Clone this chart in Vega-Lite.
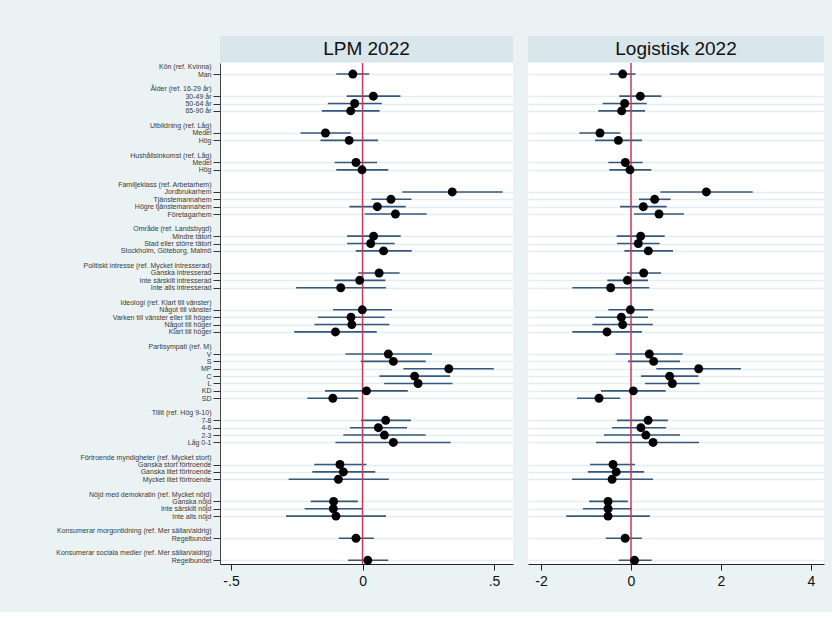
{
  "$schema": "https://vega.github.io/schema/vega-lite/v6.json",
  "background": "#eaf2f3",
  "padding": {"left": 20, "top": 36, "right": 8, "bottom": 22},
  "spacing": 15,
  "config": {"view": {"stroke": null}, "font": "Liberation Sans"},
  "datasets": {
    "coefs": [
      {"model": "LPM", "row": "i01 Man", "b": -0.037, "lo": -0.10, "hi": 0.025},
      {"model": "LPM", "row": "i04 30-49 år", "b": 0.041, "lo": -0.06, "hi": 0.144},
      {"model": "LPM", "row": "i05 50-64 år", "b": -0.03, "lo": -0.132, "hi": 0.073},
      {"model": "LPM", "row": "i06 65-90 år", "b": -0.045, "lo": -0.155, "hi": 0.065},
      {"model": "LPM", "row": "i09 Medel", "b": -0.141, "lo": -0.236, "hi": -0.045},
      {"model": "LPM", "row": "i10 Hög", "b": -0.051, "lo": -0.16, "hi": 0.059},
      {"model": "LPM", "row": "i13 Medel", "b": -0.025, "lo": -0.106, "hi": 0.055},
      {"model": "LPM", "row": "i14 Hög", "b": -0.002, "lo": -0.1, "hi": 0.098},
      {"model": "LPM", "row": "i17 Jordbrukarhem", "b": 0.341, "lo": 0.151, "hi": 0.533},
      {"model": "LPM", "row": "i18 Tjänstemannahem", "b": 0.108, "lo": 0.034, "hi": 0.186},
      {"model": "LPM", "row": "i19 Högre tjänstemannahem", "b": 0.056, "lo": -0.05, "hi": 0.164},
      {"model": "LPM", "row": "i20 Företagarhem", "b": 0.125, "lo": 0.008, "hi": 0.244},
      {"model": "LPM", "row": "i23 Mindre tätort", "b": 0.042, "lo": -0.059, "hi": 0.145},
      {"model": "LPM", "row": "i24 Stad eller större tätort", "b": 0.031, "lo": -0.059, "hi": 0.122},
      {"model": "LPM", "row": "i25 Stockholm, Göteborg, Malmö", "b": 0.08, "lo": -0.026, "hi": 0.187},
      {"model": "LPM", "row": "i28 Ganska intresserad", "b": 0.063, "lo": -0.016, "hi": 0.141},
      {"model": "LPM", "row": "i29 Inte särskilt intresserad", "b": -0.011, "lo": -0.107, "hi": 0.087},
      {"model": "LPM", "row": "i30 Inte alls intresserad", "b": -0.083, "lo": -0.253, "hi": 0.089},
      {"model": "LPM", "row": "i33 Något till vänster", "b": -0.001, "lo": -0.112, "hi": 0.112},
      {"model": "LPM", "row": "i34 Varken till vänster eller till höger", "b": -0.044, "lo": -0.17, "hi": 0.084},
      {"model": "LPM", "row": "i35 Något till höger", "b": -0.041, "lo": -0.183, "hi": 0.102},
      {"model": "LPM", "row": "i36 Klart till höger", "b": -0.103, "lo": -0.26, "hi": 0.054},
      {"model": "LPM", "row": "i39 V", "b": 0.098, "lo": -0.065, "hi": 0.264},
      {"model": "LPM", "row": "i40 S", "b": 0.117, "lo": -0.007, "hi": 0.24},
      {"model": "LPM", "row": "i41 MP", "b": 0.328, "lo": 0.155, "hi": 0.499},
      {"model": "LPM", "row": "i42 C", "b": 0.198, "lo": 0.064, "hi": 0.333},
      {"model": "LPM", "row": "i43 L", "b": 0.211, "lo": 0.082, "hi": 0.342},
      {"model": "LPM", "row": "i44 KD", "b": 0.015, "lo": -0.143, "hi": 0.172},
      {"model": "LPM", "row": "i45 SD", "b": -0.113, "lo": -0.21, "hi": -0.017},
      {"model": "LPM", "row": "i48 7-8", "b": 0.088, "lo": -0.006, "hi": 0.184},
      {"model": "LPM", "row": "i49 4-6", "b": 0.06, "lo": -0.048, "hi": 0.169},
      {"model": "LPM", "row": "i50 2-3", "b": 0.083, "lo": -0.073, "hi": 0.24},
      {"model": "LPM", "row": "i51 Låg 0-1", "b": 0.117, "lo": -0.103, "hi": 0.335},
      {"model": "LPM", "row": "i54 Ganska stort förtroende", "b": -0.086, "lo": -0.184, "hi": 0.015},
      {"model": "LPM", "row": "i55 Ganska litet förtroende", "b": -0.073, "lo": -0.191, "hi": 0.048},
      {"model": "LPM", "row": "i56 Mycket litet förtroende", "b": -0.092, "lo": -0.281, "hi": 0.1},
      {"model": "LPM", "row": "i59 Ganska nöjd", "b": -0.11, "lo": -0.197, "hi": -0.018},
      {"model": "LPM", "row": "i60 Inte särskilt nöjd", "b": -0.111, "lo": -0.22, "hi": -0.002},
      {"model": "LPM", "row": "i61 Inte alls nöjd", "b": -0.101, "lo": -0.291, "hi": 0.089},
      {"model": "LPM", "row": "i64 Regelbundet", "b": -0.025, "lo": -0.09, "hi": 0.043},
      {"model": "LPM", "row": "i67 Regelbundet", "b": 0.02, "lo": -0.055, "hi": 0.098},
      {"model": "Logit", "row": "i01 Man", "b": -0.185, "lo": -0.47, "hi": 0.10},
      {"model": "Logit", "row": "i04 30-49 år", "b": 0.207, "lo": -0.26, "hi": 0.674},
      {"model": "Logit", "row": "i05 50-64 år", "b": -0.141, "lo": -0.63, "hi": 0.348},
      {"model": "Logit", "row": "i06 65-90 år", "b": -0.207, "lo": -0.726, "hi": 0.311},
      {"model": "Logit", "row": "i09 Medel", "b": -0.689, "lo": -1.148, "hi": -0.237},
      {"model": "Logit", "row": "i10 Hög", "b": -0.281, "lo": -0.8, "hi": 0.244},
      {"model": "Logit", "row": "i13 Medel", "b": -0.126, "lo": -0.504, "hi": 0.259},
      {"model": "Logit", "row": "i14 Hög", "b": -0.022, "lo": -0.481, "hi": 0.452},
      {"model": "Logit", "row": "i17 Jordbrukarhem", "b": 1.674, "lo": 0.652, "hi": 2.704},
      {"model": "Logit", "row": "i18 Tjänstemannahem", "b": 0.526, "lo": 0.178, "hi": 0.881},
      {"model": "Logit", "row": "i19 Högre tjänstemannahem", "b": 0.274, "lo": -0.244, "hi": 0.793},
      {"model": "Logit", "row": "i20 Företagarhem", "b": 0.622, "lo": 0.067, "hi": 1.178},
      {"model": "Logit", "row": "i23 Mindre tätort", "b": 0.215, "lo": -0.319, "hi": 0.748},
      {"model": "Logit", "row": "i24 Stad eller större tätort", "b": 0.163, "lo": -0.311, "hi": 0.637},
      {"model": "Logit", "row": "i25 Stockholm, Göteborg, Malmö", "b": 0.385, "lo": -0.148, "hi": 0.933},
      {"model": "Logit", "row": "i28 Ganska intresserad", "b": 0.281, "lo": -0.089, "hi": 0.667},
      {"model": "Logit", "row": "i29 Inte särskilt intresserad", "b": -0.081, "lo": -0.526, "hi": 0.378},
      {"model": "Logit", "row": "i30 Inte alls intresserad", "b": -0.452, "lo": -1.304, "hi": 0.407},
      {"model": "Logit", "row": "i33 Något till vänster", "b": -0.015, "lo": -0.504, "hi": 0.496},
      {"model": "Logit", "row": "i34 Varken till vänster eller till höger", "b": -0.215, "lo": -0.793, "hi": 0.378},
      {"model": "Logit", "row": "i35 Något till höger", "b": -0.185, "lo": -0.859, "hi": 0.489},
      {"model": "Logit", "row": "i36 Klart till höger", "b": -0.533, "lo": -1.304, "hi": 0.244},
      {"model": "Logit", "row": "i39 V", "b": 0.407, "lo": -0.341, "hi": 1.148},
      {"model": "Logit", "row": "i40 S", "b": 0.504, "lo": -0.067, "hi": 1.089},
      {"model": "Logit", "row": "i41 MP", "b": 1.504, "lo": 0.563, "hi": 2.444},
      {"model": "Logit", "row": "i42 C", "b": 0.859, "lo": 0.222, "hi": 1.496},
      {"model": "Logit", "row": "i43 L", "b": 0.919, "lo": 0.311, "hi": 1.526},
      {"model": "Logit", "row": "i44 KD", "b": 0.052, "lo": -0.667, "hi": 0.77},
      {"model": "Logit", "row": "i45 SD", "b": -0.711, "lo": -1.2, "hi": -0.24},
      {"model": "Logit", "row": "i48 7-8", "b": 0.38, "lo": -0.31, "hi": 0.82},
      {"model": "Logit", "row": "i49 4-6", "b": 0.22, "lo": -0.42, "hi": 0.78},
      {"model": "Logit", "row": "i50 2-3", "b": 0.33, "lo": -0.6, "hi": 1.09},
      {"model": "Logit", "row": "i51 Låg 0-1", "b": 0.49, "lo": -0.78, "hi": 1.51},
      {"model": "Logit", "row": "i54 Ganska stort förtroende", "b": -0.4, "lo": -0.91, "hi": 0.09},
      {"model": "Logit", "row": "i55 Ganska litet förtroende", "b": -0.33, "lo": -0.96, "hi": 0.29},
      {"model": "Logit", "row": "i56 Mycket litet förtroende", "b": -0.42, "lo": -1.31, "hi": 0.49},
      {"model": "Logit", "row": "i59 Ganska nöjd", "b": -0.51, "lo": -0.93, "hi": -0.07},
      {"model": "Logit", "row": "i60 Inte särskilt nöjd", "b": -0.51, "lo": -1.07, "hi": 0.02},
      {"model": "Logit", "row": "i61 Inte alls nöjd", "b": -0.51, "lo": -1.44, "hi": 0.42},
      {"model": "Logit", "row": "i64 Regelbundet", "b": -0.13, "lo": -0.56, "hi": 0.24},
      {"model": "Logit", "row": "i67 Regelbundet", "b": 0.08, "lo": -0.27, "hi": 0.46}
    ]
  },
  "hconcat": [
    {
      "spacing": 0,
      "vconcat": [
        {
          "width": 293, "height": 26,
          "view": {"fill": "#d9e6eb", "stroke": null},
          "data": {"values": [{"t": "LPM 2022"}]},
          "mark": {"type": "text", "font": "Liberation Sans", "fontSize": 19, "color": "#111", "baseline": "middle", "align": "center"},
          "encoding": {
            "text": {"field": "t"},
            "x": {"datum": 0, "type": "quantitative", "scale": {"domain": [-1, 1]}, "axis": null},
            "y": {"datum": 0, "type": "quantitative", "scale": {"domain": [-1, 1]}, "axis": null}
          }
        },
        {
          "width": 293, "height": 501,
          "view": {"fill": "white", "stroke": null},
          "layer": [
            {
              "data": {"name": "coefs"},
              "transform": [{"filter": "datum.model == 'LPM'"}],
              "mark": {"type": "rule", "color": "#35597c", "strokeWidth": 1.6},
              "encoding": {
                "x": {"field": "lo", "type": "quantitative", "scale": {"domain": [-0.542, 0.572], "nice": false, "zero": false},
                  "axis": {"title": null, "values": [-0.5, 0, 0.5], "labelExpr": "datum.value == 0 ? '0' : (datum.value < 0 ? '-.5' : '.5')", "labelFont": "Liberation Sans", "labelFontSize": 14, "labelColor": "#111", "tickSize": 6, "tickColor": "#222", "domainColor": "#222", "grid": false, "labelPadding": 4, "labelFlush": false, "minExtent": 26, "maxExtent": 26}},
                "x2": {"field": "hi"},
                "y": {"field": "row", "type": "nominal", "sort": null,
                  "scale": {"type": "point", "padding": 0.5, "domain": ["h00 Kön (ref. Kvinna)", "i01 Man", "b02", "h03 Ålder (ref. 16-29 år)", "i04 30-49 år", "i05 50-64 år", "i06 65-90 år", "b07", "h08 Utbildning (ref. Låg)", "i09 Medel", "i10 Hög", "b11", "h12 Hushållsinkomst (ref. Låg)", "i13 Medel", "i14 Hög", "b15", "h16 Familjeklass (ref. Arbetarhem)", "i17 Jordbrukarhem", "i18 Tjänstemannahem", "i19 Högre tjänstemannahem", "i20 Företagarhem", "b21", "h22 Område (ref. Landsbygd)", "i23 Mindre tätort", "i24 Stad eller större tätort", "i25 Stockholm, Göteborg, Malmö", "b26", "h27 Politiskt intresse (ref. Mycket intresserad)", "i28 Ganska intresserad", "i29 Inte särskilt intresserad", "i30 Inte alls intresserad", "b31", "h32 Ideologi (ref. Klart till vänster)", "i33 Något till vänster", "i34 Varken till vänster eller till höger", "i35 Något till höger", "i36 Klart till höger", "b37", "h38 Partisympati (ref. M)", "i39 V", "i40 S", "i41 MP", "i42 C", "i43 L", "i44 KD", "i45 SD", "b46", "h47 Tillit (ref. Hög 9-10)", "i48 7-8", "i49 4-6", "i50 2-3", "i51 Låg 0-1", "b52", "h53 Förtroende myndigheter (ref. Mycket stort)", "i54 Ganska stort förtroende", "i55 Ganska litet förtroende", "i56 Mycket litet förtroende", "b57", "h58 Nöjd med demokratin (ref. Mycket nöjd)", "i59 Ganska nöjd", "i60 Inte särskilt nöjd", "i61 Inte alls nöjd", "b62", "h63 Konsumerar morgontidning (ref. Mer sällan/aldrig)", "i64 Regelbundet", "b65", "h66 Konsumerar sociala medier (ref. Mer sällan/aldrig)", "i67 Regelbundet"]},
                  "axis": {"title": null, "labelExpr": "substring(datum.value, 4)", "labelFont": "Liberation Sans", "labelFontSize": 7, "labelColor": "#3a3a3a", "labelPadding": 2, "labelLimit": 0, "labelOverlap": false, "labelBound": false, "tickSize": 7, "tickColor": "#333",
                    "tickOpacity": {"condition": {"test": "substring(datum.value, 0, 1) == 'i'", "value": 1}, "value": 0},
                    "domainColor": "#444", "grid": true, "gridColor": "#e4edf0", "gridWidth": 1.5,
                    "gridOpacity": {"condition": {"test": "substring(datum.value, 0, 1) == 'i'", "value": 1}, "value": 0},
                    "minExtent": 200, "maxExtent": 200}}
              }
            },
            {
              "data": {"values": [{"z": 0}]},
              "mark": {"type": "rule", "color": "#c8385a", "strokeWidth": 1.5},
              "encoding": {
                "x": {"field": "z", "type": "quantitative", "scale": {"domain": [-0.542, 0.572], "nice": false, "zero": false}}
              }
            },
            {
              "data": {"name": "coefs"},
              "transform": [{"filter": "datum.model == 'LPM'"}],
              "mark": {"type": "circle", "size": 80, "color": "black", "opacity": 1},
              "encoding": {
                "x": {"field": "b", "type": "quantitative", "scale": {"domain": [-0.542, 0.572], "nice": false, "zero": false}},
                "y": {"field": "row", "type": "nominal", "sort": null,
                  "scale": {"type": "point", "padding": 0.5, "domain": ["h00 Kön (ref. Kvinna)", "i01 Man", "b02", "h03 Ålder (ref. 16-29 år)", "i04 30-49 år", "i05 50-64 år", "i06 65-90 år", "b07", "h08 Utbildning (ref. Låg)", "i09 Medel", "i10 Hög", "b11", "h12 Hushållsinkomst (ref. Låg)", "i13 Medel", "i14 Hög", "b15", "h16 Familjeklass (ref. Arbetarhem)", "i17 Jordbrukarhem", "i18 Tjänstemannahem", "i19 Högre tjänstemannahem", "i20 Företagarhem", "b21", "h22 Område (ref. Landsbygd)", "i23 Mindre tätort", "i24 Stad eller större tätort", "i25 Stockholm, Göteborg, Malmö", "b26", "h27 Politiskt intresse (ref. Mycket intresserad)", "i28 Ganska intresserad", "i29 Inte särskilt intresserad", "i30 Inte alls intresserad", "b31", "h32 Ideologi (ref. Klart till vänster)", "i33 Något till vänster", "i34 Varken till vänster eller till höger", "i35 Något till höger", "i36 Klart till höger", "b37", "h38 Partisympati (ref. M)", "i39 V", "i40 S", "i41 MP", "i42 C", "i43 L", "i44 KD", "i45 SD", "b46", "h47 Tillit (ref. Hög 9-10)", "i48 7-8", "i49 4-6", "i50 2-3", "i51 Låg 0-1", "b52", "h53 Förtroende myndigheter (ref. Mycket stort)", "i54 Ganska stort förtroende", "i55 Ganska litet förtroende", "i56 Mycket litet förtroende", "b57", "h58 Nöjd med demokratin (ref. Mycket nöjd)", "i59 Ganska nöjd", "i60 Inte särskilt nöjd", "i61 Inte alls nöjd", "b62", "h63 Konsumerar morgontidning (ref. Mer sällan/aldrig)", "i64 Regelbundet", "b65", "h66 Konsumerar sociala medier (ref. Mer sällan/aldrig)", "i67 Regelbundet"]}}
              }
            }
          ]
        }
      ]
    },
    {
      "spacing": 0,
      "vconcat": [
        {
          "width": 296, "height": 26,
          "view": {"fill": "#d9e6eb", "stroke": null},
          "data": {"values": [{"t": "Logistisk 2022"}]},
          "mark": {"type": "text", "font": "Liberation Sans", "fontSize": 19, "color": "#111", "baseline": "middle", "align": "center"},
          "encoding": {
            "text": {"field": "t"},
            "x": {"datum": 0, "type": "quantitative", "scale": {"domain": [-1, 1]}, "axis": null},
            "y": {"datum": 0, "type": "quantitative", "scale": {"domain": [-1, 1]}, "axis": null}
          }
        },
        {
          "width": 296, "height": 501,
          "view": {"fill": "white", "stroke": null},
          "layer": [
            {
              "data": {"name": "coefs"},
              "transform": [{"filter": "datum.model == 'Logit'"}],
              "mark": {"type": "rule", "color": "#35597c", "strokeWidth": 1.6},
              "encoding": {
                "x": {"field": "lo", "type": "quantitative", "scale": {"domain": [-2.289, 4.289], "nice": false, "zero": false},
                  "axis": {"title": null, "values": [-2, 0, 2, 4], "labelExpr": "datum.value < 0 ? '-' + abs(datum.value) : '' + datum.value", "labelFont": "Liberation Sans", "labelFontSize": 14, "labelColor": "#111", "tickSize": 6, "tickColor": "#222", "domainColor": "#222", "grid": false, "labelPadding": 4, "labelFlush": false, "minExtent": 26, "maxExtent": 26}},
                "x2": {"field": "hi"},
                "y": {"field": "row", "type": "nominal", "sort": null,
                  "scale": {"type": "point", "padding": 0.5, "domain": ["h00 Kön (ref. Kvinna)", "i01 Man", "b02", "h03 Ålder (ref. 16-29 år)", "i04 30-49 år", "i05 50-64 år", "i06 65-90 år", "b07", "h08 Utbildning (ref. Låg)", "i09 Medel", "i10 Hög", "b11", "h12 Hushållsinkomst (ref. Låg)", "i13 Medel", "i14 Hög", "b15", "h16 Familjeklass (ref. Arbetarhem)", "i17 Jordbrukarhem", "i18 Tjänstemannahem", "i19 Högre tjänstemannahem", "i20 Företagarhem", "b21", "h22 Område (ref. Landsbygd)", "i23 Mindre tätort", "i24 Stad eller större tätort", "i25 Stockholm, Göteborg, Malmö", "b26", "h27 Politiskt intresse (ref. Mycket intresserad)", "i28 Ganska intresserad", "i29 Inte särskilt intresserad", "i30 Inte alls intresserad", "b31", "h32 Ideologi (ref. Klart till vänster)", "i33 Något till vänster", "i34 Varken till vänster eller till höger", "i35 Något till höger", "i36 Klart till höger", "b37", "h38 Partisympati (ref. M)", "i39 V", "i40 S", "i41 MP", "i42 C", "i43 L", "i44 KD", "i45 SD", "b46", "h47 Tillit (ref. Hög 9-10)", "i48 7-8", "i49 4-6", "i50 2-3", "i51 Låg 0-1", "b52", "h53 Förtroende myndigheter (ref. Mycket stort)", "i54 Ganska stort förtroende", "i55 Ganska litet förtroende", "i56 Mycket litet förtroende", "b57", "h58 Nöjd med demokratin (ref. Mycket nöjd)", "i59 Ganska nöjd", "i60 Inte särskilt nöjd", "i61 Inte alls nöjd", "b62", "h63 Konsumerar morgontidning (ref. Mer sällan/aldrig)", "i64 Regelbundet", "b65", "h66 Konsumerar sociala medier (ref. Mer sällan/aldrig)", "i67 Regelbundet"]},
                  "axis": {"title": null, "labels": false, "ticks": false, "domain": false, "grid": true, "gridColor": "#e4edf0", "gridWidth": 1.5,
                    "gridOpacity": {"condition": {"test": "substring(datum.value, 0, 1) == 'i'", "value": 1}, "value": 0},
                    "minExtent": 0, "maxExtent": 0}}
              }
            },
            {
              "data": {"values": [{"z": 0}]},
              "mark": {"type": "rule", "color": "#c8385a", "strokeWidth": 1.5},
              "encoding": {
                "x": {"field": "z", "type": "quantitative", "scale": {"domain": [-2.289, 4.289], "nice": false, "zero": false}}
              }
            },
            {
              "data": {"name": "coefs"},
              "transform": [{"filter": "datum.model == 'Logit'"}],
              "mark": {"type": "circle", "size": 80, "color": "black", "opacity": 1},
              "encoding": {
                "x": {"field": "b", "type": "quantitative", "scale": {"domain": [-2.289, 4.289], "nice": false, "zero": false}},
                "y": {"field": "row", "type": "nominal", "sort": null,
                  "scale": {"type": "point", "padding": 0.5, "domain": ["h00 Kön (ref. Kvinna)", "i01 Man", "b02", "h03 Ålder (ref. 16-29 år)", "i04 30-49 år", "i05 50-64 år", "i06 65-90 år", "b07", "h08 Utbildning (ref. Låg)", "i09 Medel", "i10 Hög", "b11", "h12 Hushållsinkomst (ref. Låg)", "i13 Medel", "i14 Hög", "b15", "h16 Familjeklass (ref. Arbetarhem)", "i17 Jordbrukarhem", "i18 Tjänstemannahem", "i19 Högre tjänstemannahem", "i20 Företagarhem", "b21", "h22 Område (ref. Landsbygd)", "i23 Mindre tätort", "i24 Stad eller större tätort", "i25 Stockholm, Göteborg, Malmö", "b26", "h27 Politiskt intresse (ref. Mycket intresserad)", "i28 Ganska intresserad", "i29 Inte särskilt intresserad", "i30 Inte alls intresserad", "b31", "h32 Ideologi (ref. Klart till vänster)", "i33 Något till vänster", "i34 Varken till vänster eller till höger", "i35 Något till höger", "i36 Klart till höger", "b37", "h38 Partisympati (ref. M)", "i39 V", "i40 S", "i41 MP", "i42 C", "i43 L", "i44 KD", "i45 SD", "b46", "h47 Tillit (ref. Hög 9-10)", "i48 7-8", "i49 4-6", "i50 2-3", "i51 Låg 0-1", "b52", "h53 Förtroende myndigheter (ref. Mycket stort)", "i54 Ganska stort förtroende", "i55 Ganska litet förtroende", "i56 Mycket litet förtroende", "b57", "h58 Nöjd med demokratin (ref. Mycket nöjd)", "i59 Ganska nöjd", "i60 Inte särskilt nöjd", "i61 Inte alls nöjd", "b62", "h63 Konsumerar morgontidning (ref. Mer sällan/aldrig)", "i64 Regelbundet", "b65", "h66 Konsumerar sociala medier (ref. Mer sällan/aldrig)", "i67 Regelbundet"]}}
              }
            }
          ]
        }
      ]
    }
  ]
}
